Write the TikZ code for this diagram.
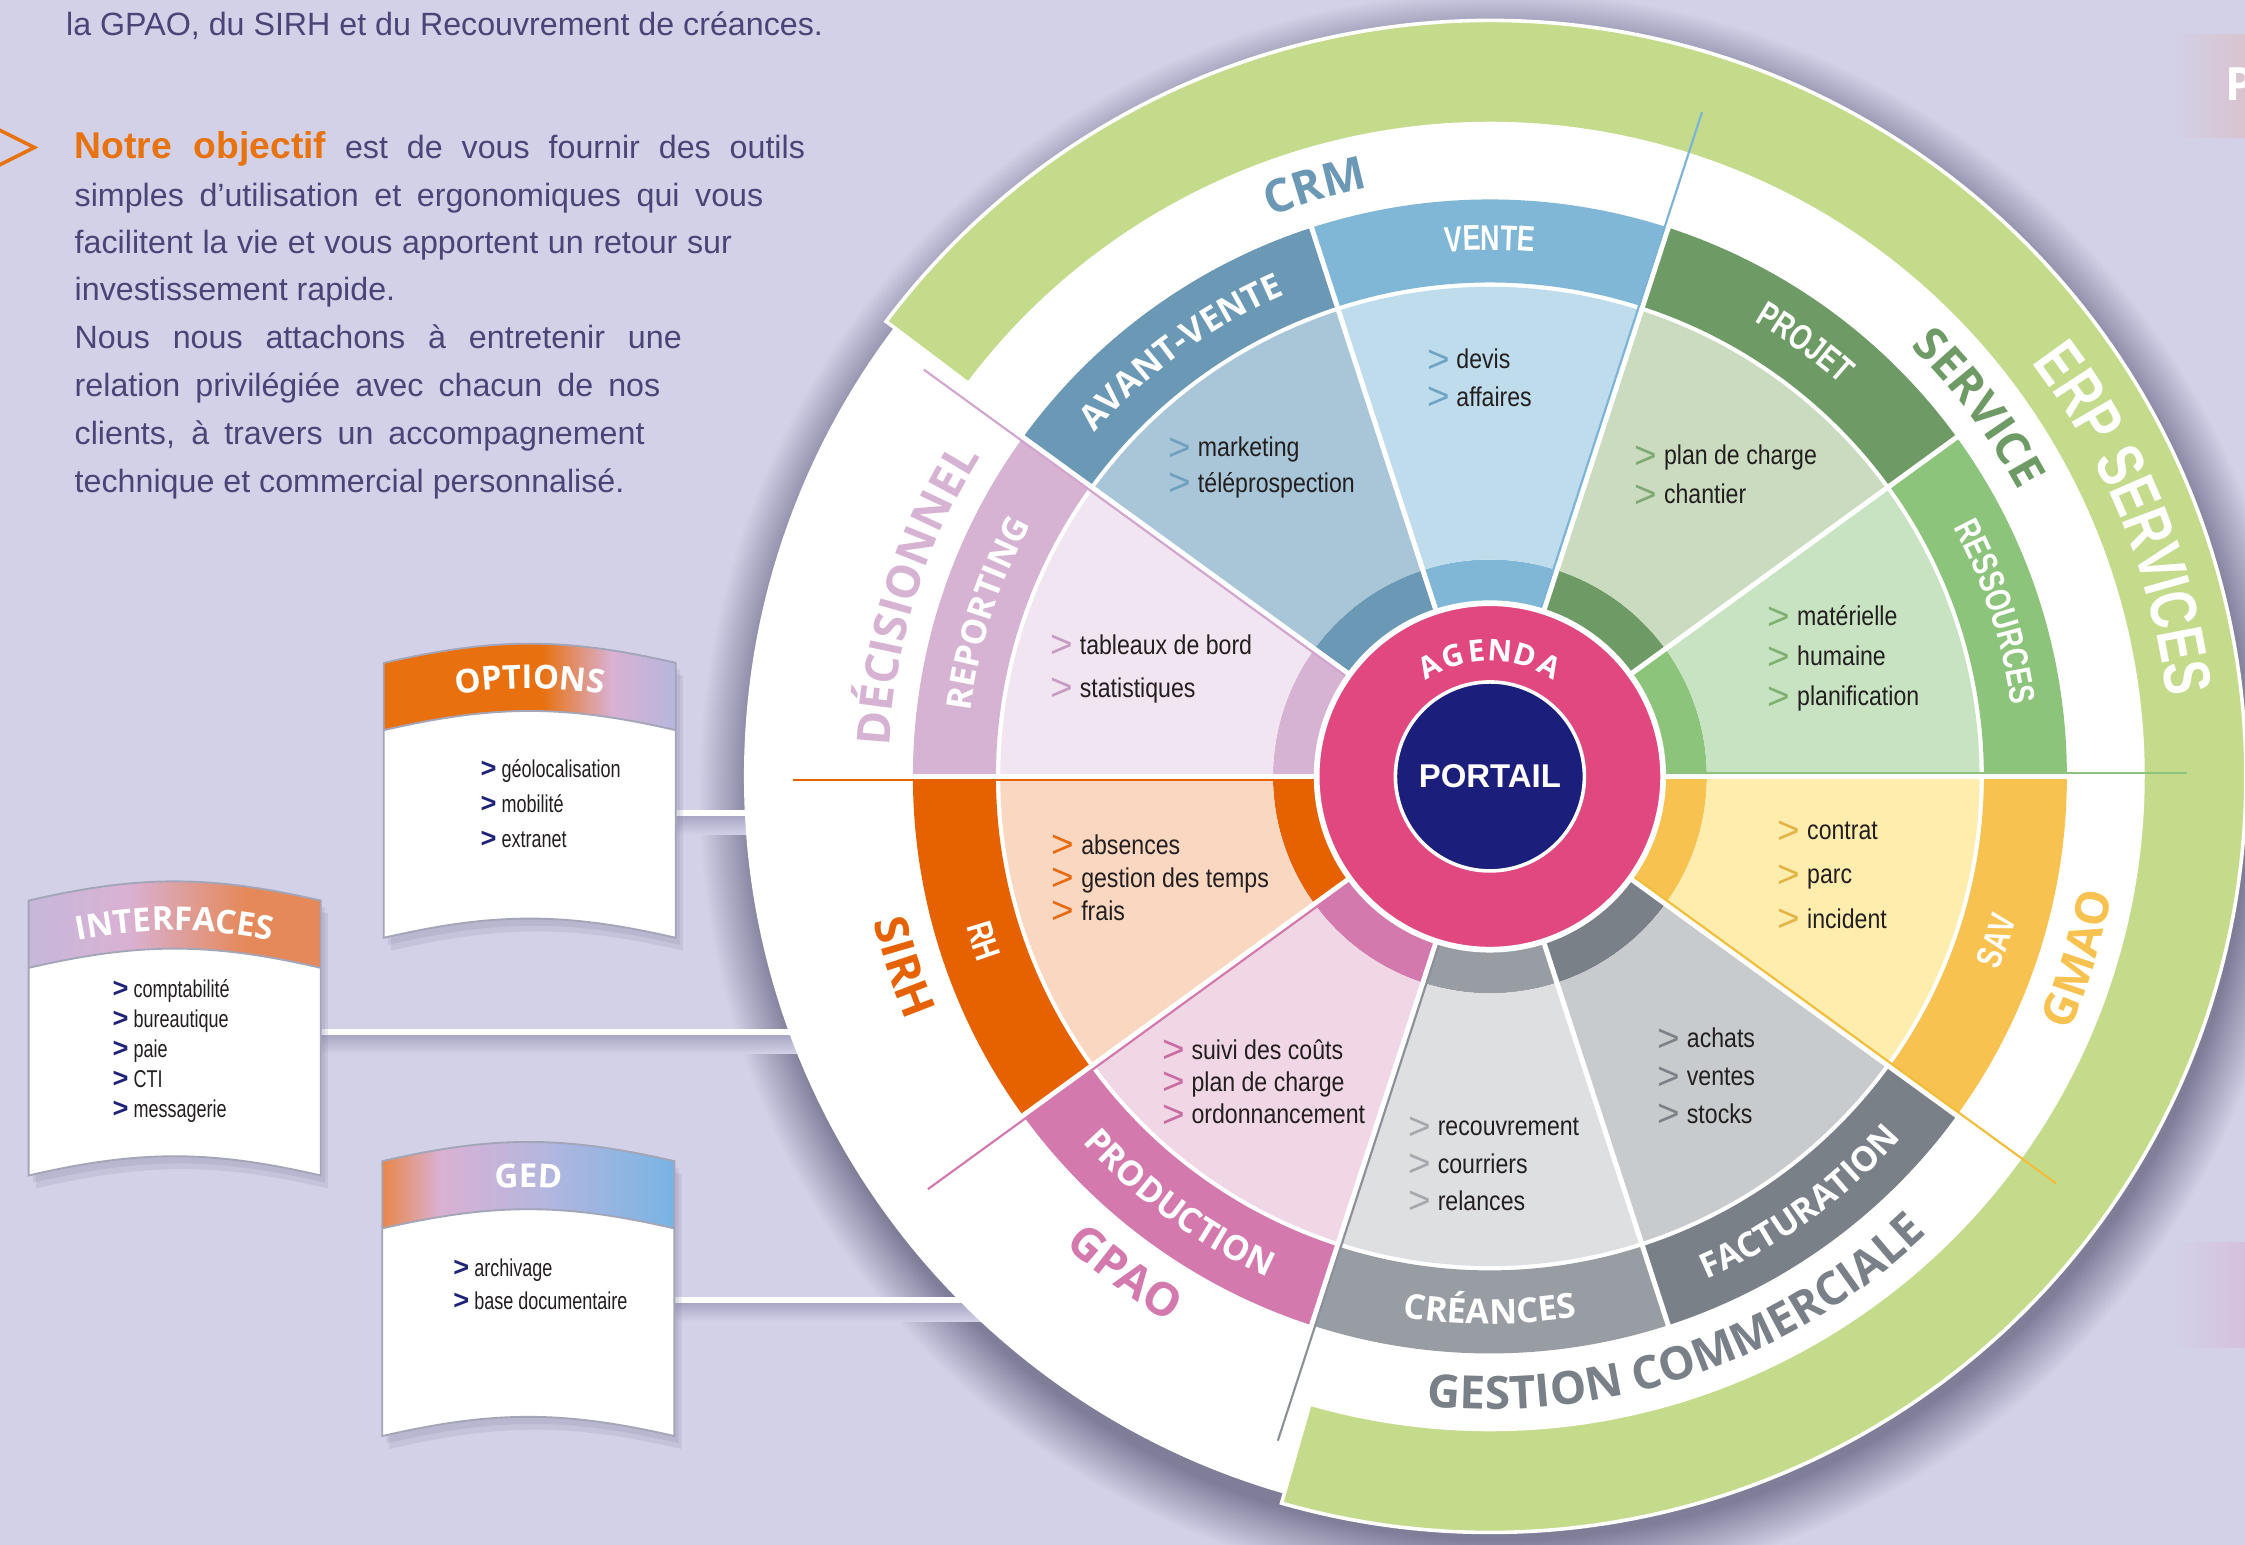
\documentclass[tikz,border=0pt]{standalone}
\usepackage{fontspec}
\setmainfont{Liberation Sans}
\newfontfamily\itemfont{Liberation Sans}[FakeStretch=0.85]
\newfontfamily\cardfont{Liberation Sans}[FakeStretch=0.74]
\newfontfamily\bandcond{Liberation Sans}[FakeStretch=0.75]
\newfontfamily\labelfont{Open Sans}
\usetikzlibrary{positioning, calc, decorations.text}

\definecolor{bgviolet}{HTML}{D2D1E8}
\definecolor{bodytext}{HTML}{4C4477}
\definecolor{objorange}{HTML}{E8720E}
\definecolor{erpgreen}{HTML}{C5DB8C}
\definecolor{agpink}{HTML}{E1487F}
\definecolor{portnavy}{HTML}{1B1F7B}
\definecolor{wheelshadowc}{HTML}{807D99}
\definecolor{barshadec}{HTML}{A9A7C3}
\definecolor{cardedge}{HTML}{A3A5B8}
\definecolor{chevnavy}{HTML}{1E2378}
\definecolor{itemtext}{HTML}{231F20}
\definecolor{cardorange}{HTML}{E8700E}
\definecolor{cardpink}{HTML}{D9B1D3}
\definecolor{cardlilac}{HTML}{B6B6DE}
\definecolor{cardlav}{HTML}{C6B8DA}
\definecolor{cardsalmon}{HTML}{E5895A}
\definecolor{gedorange}{HTML}{E8874A}
\definecolor{gedblue}{HTML}{78B4E4}
\definecolor{pboxc}{HTML}{D9C3CF}
\definecolor{qboxc}{HTML}{D5C0DD}
% sectors
\definecolor{bandvente}{HTML}{80B6D6}  \definecolor{lightvente}{HTML}{BEDCEC}  \definecolor{chevvente}{HTML}{6FA3C4}
\definecolor{bandavant}{HTML}{6B98B4}  \definecolor{lightavant}{HTML}{A8C6D8}  \definecolor{chevavant}{HTML}{6FA0C0}
\definecolor{bandreport}{HTML}{D7B3D3} \definecolor{lightreport}{HTML}{F1E5F1} \definecolor{chevreport}{HTML}{C59BC1}
\definecolor{bandrh}{HTML}{E66100}     \definecolor{lightrh}{HTML}{F9D7C0}     \definecolor{chevrh}{HTML}{E86A0F}
\definecolor{bandprod}{HTML}{D479AD}   \definecolor{lightprod}{HTML}{F1D6E5}   \definecolor{chevprod}{HTML}{C86CA3}
\definecolor{bandcrean}{HTML}{989CA3}  \definecolor{lightcrean}{HTML}{DEDFE1}  \definecolor{chevcrean}{HTML}{A4A7AC}
\definecolor{bandfact}{HTML}{7A8088}   \definecolor{lightfact}{HTML}{C8CBCE}   \definecolor{chevfact}{HTML}{7C8188}
\definecolor{bandsav}{HTML}{F8C250}    \definecolor{lightsav}{HTML}{FEEDAC}    \definecolor{chevsav}{HTML}{E3B445}
\definecolor{bandres}{HTML}{8CC47B}    \definecolor{lightres}{HTML}{C8E3C1}    \definecolor{chevres}{HTML}{7EB072}
\definecolor{bandproj}{HTML}{6E9A65}   \definecolor{lightproj}{HTML}{CADBBF}   \definecolor{chevproj}{HTML}{7EA972}
\definecolor{grpvente}{HTML}{7DB3D6}
\definecolor{grpreport}{HTML}{D2A5CE}
\definecolor{grpgest}{HTML}{8C9098}
\definecolor{grpsav}{HTML}{F3BD3C}

\pgfdeclarehorizontalshading{optshade}{100bp}{color(0bp)=(cardorange); color(25bp)=(cardorange); color(52bp)=(cardorange); color(64bp)=(cardpink); color(75bp)=(cardlilac); color(100bp)=(cardlilac)}
\pgfdeclarehorizontalshading{intshade}{100bp}{color(0bp)=(cardlav); color(25bp)=(cardlav); color(42bp)=(cardpink); color(62bp)=(cardsalmon); color(75bp)=(cardsalmon); color(100bp)=(cardsalmon)}
\pgfdeclarehorizontalshading{gedshade}{100bp}{color(0bp)=(gedorange); color(25bp)=(gedorange); color(35bp)=(cardpink); color(52bp)=(cardlilac); color(75bp)=(gedblue); color(100bp)=(gedblue)}
\pgfdeclareradialshading{wheelshade}{\pgfpoint{0bp}{0bp}}{color(0bp)=(wheelshadowc); color(23.3bp)=(wheelshadowc); color(25bp)=(bgviolet); color(50bp)=(bgviolet)}

\newcommand{\chev}[1]{\makebox[20.5pt][l]{\raisebox{-2.5pt}{\textcolor{#1}{\normalfont\fontsize{27}{27}\selectfont >}}}}
\newcommand{\cchev}{{\normalfont\bfseries\fontsize{19}{19}\selectfont\color{chevnavy}>}\ }
\newcommand{\bandlbl}{\labelfont\bfseries\fontsize{24}{24}\selectfont\color{white}}
\newcommand{\condlbl}{\bandcond\bfseries\fontsize{25}{25}\selectfont\color{white}}
\newcommand{\grouplbl}[1]{\labelfont\bfseries\fontsize{32}{32}\selectfont\color{#1}}
\newcommand{\cardtitle}{\labelfont\bfseries\fontsize{23}{23}\selectfont\color{white}}

\begin{document}
\begin{tikzpicture}[x=1pt, y=1pt,
    bodyline/.style={anchor=base west, inner sep=0pt, text=bodytext, font=\fontsize{22.5}{33}\selectfont},
    itemlist/.style={anchor=west, inner sep=0pt, align=left, text=itemtext, font=\itemfont\fontsize{19}{#1}\selectfont},
    cardlist/.style={anchor=west, inner sep=0pt, align=left, text=itemtext, font=\cardfont\fontsize{17}{#1}\selectfont},
    cardline/.style={draw=cardedge, line width=1.3pt},
    cardshadow/.style={fill=wheelshadowc, opacity=0.16},
    bar/.style={draw=white, line width=4pt},
    barshadow/.style={top color=barshadec, bottom color=bgviolet},
    sepline/.style={draw=white, line width=3.5pt},
    grpline/.style={line width=1.5pt},
    agletter/.style={inner sep=0pt, text=white, font=\labelfont\bfseries\fontsize{21}{21}\selectfont},
    arclabel/.style={decorate, decoration={text along path, text align=center, text={#1}}}]

    \useasboundingbox (0,0) rectangle (1568,1079);
    \clip (0,0) rectangle (1568,1079);
    \fill[bgviolet] (0,0) rectangle (1568,1079);

    % Left text
    \node[bodyline] (intro) at (46,1054) {la GPAO, du SIRH et du Recouvrement de créances.};
    \draw[objorange, line width=2.5pt] (-2,989) -- (24,976) -- (-2,963);
    \node[bodyline] (para1) at (52,968) {\makebox[510pt][s]{{\color{objorange}\bfseries\fontsize{26}{33}\selectfont Notre objectif} est de vous fournir des outils}};
    \node[bodyline] (para2) at (52,935) {\makebox[481pt][s]{simples d’utilisation et ergonomiques qui vous}};
    \node[bodyline] (para3) at (52,902) {\makebox[459pt][s]{facilitent la vie et vous apportent un retour sur}};
    \node[bodyline] (para4) at (52,869) {investissement rapide.};
    \node[bodyline] (para5) at (52,835.5) {\makebox[424pt][s]{Nous nous attachons à entretenir une}};
    \node[bodyline] (para6) at (52,802) {\makebox[409pt][s]{relation privilégiée avec chacun de nos}};
    \node[bodyline] (para7) at (52,768.5) {\makebox[398pt][s]{clients, à travers un accompagnement}};
    \node[bodyline] (para8) at (52,735) {technique et commercial personnalisé.};

    % Right edge boxes
    \shade[left color=bgviolet, right color=pboxc] (1516,983) rectangle (1568,1055);
    \node[inner sep=0pt, anchor=west, text=white, font=\labelfont\bfseries\fontsize{32}{32}\selectfont] (pnext) at (1554,1020) {P};
    \shade[left color=bgviolet, right color=qboxc] (1518,138) rectangle (1568,211);

    \coordinate (hub) at (1040.6,536.7);

    % Wheel shadow
    \shade[shading=wheelshade] ($(hub)+(7,-11)$) circle (560);

    % Connectors
    \coordinate (optport) at (472,511);
    \coordinate (intport) at (224,358);
    \coordinate (gedport) at (471,171);
    \foreach \p in {optport,intport,gedport} {
        \shade[barshadow] ($(\p)+(0,-2)$) rectangle ($(\p -| hub)+(0,-15)$);
        \draw[bar] (\p) -- (\p -| hub);
    }

    % Cards
    \foreach \L/\R/\T/\H/\B/\shd in {268/472/616/569/424/optshade, 20/224/450/403/258/intshade, 267/471/268/221/76/gedshade} {
        \begin{scope}[shift={(3,-5)}]
            \fill[cardshadow] (\L,\T) to[bend left=13] (\R,\T) -- (\R,\B) to[bend right=13] (\L,\B) -- cycle;
        \end{scope}
        \begin{scope}[shift={(5,-9)}]
            \fill[cardshadow] (\L,\T) to[bend left=13] (\R,\T) -- (\R,\B) to[bend right=13] (\L,\B) -- cycle;
        \end{scope}
        \fill[white] (\L,\T) to[bend left=13] (\R,\T) -- (\R,\B) to[bend right=13] (\L,\B) -- cycle;
        \shade[shading=\shd] (\L,\T) to[bend left=13] (\R,\T) -- (\R,\H) to[bend right=13] (\L,\H) -- cycle;
        \draw[cardline] (\L,\H) to[bend left=13] (\R,\H);
        \draw[cardline] (\L,\T) to[bend left=13] (\R,\T) -- (\R,\B) to[bend right=13] (\L,\B) -- cycle;
    }
    \path[arclabel={|\cardtitle|OPTIONS}] (278,586) to[bend left=13] (462,586);
    \path[arclabel={|\cardtitle|INTERFACES}] (30,417) to[bend left=13] (214,417);
    \path[arclabel={|\cardtitle|GED}] (277,237.5) to[bend left=13] (461,237.5);

    \node[cardlist=24.5] (optitems) at (335.5,517.5) {\cchev géolocalisation\\\cchev mobilité\\\cchev extranet};
    \node[cardlist=21] (intitems) at (78.5,345) {\cchev comptabilité\\\cchev bureautique\\\cchev paie\\\cchev CTI\\\cchev messagerie};
    \node[cardlist=22.6] (geditems) at (316.5,182) {\cchev archivage\\\cchev base documentaire};

    % Wheel
    \begin{scope}[shift={(hub)}]
        \node[circle, fill=white, minimum size=1042pt, inner sep=0pt] (disk) at (0,0) {};
        \fill[erpgreen, draw=white, line width=2.5pt] (143:528) arc[start angle=143, end angle=-106, radius=528] -- (-106:456) arc[start angle=-106, end angle=143, radius=456] -- cycle;

        % Sector rings
        \foreach \a/\sct in {0/res,36/proj,72/vente,108/avant,144/report,180/rh,216/prod,252/crean,288/fact,324/sav} {
            \pgfmathsetmacro{\aend}{\a+36}
            \fill[band\sct] (\a:122) arc[start angle=\a, end angle=\aend, radius=122] -- (\aend:151.5) arc[start angle=\aend, end angle=\a, radius=151.5] -- cycle;
            \fill[light\sct] (\a:151.5) arc[start angle=\a, end angle=\aend, radius=151.5] -- (\aend:342) arc[start angle=\aend, end angle=\a, radius=342] -- cycle;
            \fill[band\sct] (\a:345) arc[start angle=\a, end angle=\aend, radius=345] -- (\aend:403) arc[start angle=\aend, end angle=\a, radius=403] -- cycle;
        }
        \foreach \a in {0,36,...,324}
            \draw[sepline] (\a:119) -- (\a:404);
        \foreach \a/\col in {0/bandres, 72/grpvente, 144/grpreport, 180/bandrh, 216/bandprod, 252/grpgest, 324/grpsav}
            \draw[grpline, draw=\col, rotate=\a] (122,2.5) -- (487,2.5);

        % Centre
        \node[circle, fill=agpink, draw=white, line width=4pt, minimum size=242pt, inner sep=0pt] (agenda) at (0,0) {};
        \node[circle, fill=portnavy, draw=white, line width=2.5pt, minimum size=132pt, inner sep=0pt, text=white, font=\bfseries\fontsize{23}{23}\selectfont] (portail) at (0,0) {PORTAIL};
        \foreach \ch/\ang [count=\i] in {A/118.5, G/107.2, E/96.2, N/85.5, D/73.7, A/61.5}
            \node[agletter, rotate=\ang-90] (agl\i) at (\ang:88) {\ch};

        % Band labels
        \path[arclabel={|\condlbl|RESSOURCES}] (35:367.5) arc[start angle=35, end angle=1, radius=367.5];
        \path[arclabel={|\condlbl|PROJET}] (71:367.5) arc[start angle=71, end angle=37, radius=367.5];
        \path[arclabel={|\condlbl|VENTE}] (107:367.5) arc[start angle=107, end angle=73, radius=367.5];
        \path[arclabel={|\bandlbl|AVANT-VENTE}] (143:365.5) arc[start angle=143, end angle=109, radius=365.5];
        \path[arclabel={|\bandlbl|REPORTING}] (179:365.5) arc[start angle=179, end angle=145, radius=365.5];
        \path[arclabel={|\condlbl|RH}] (181:380.5) arc[start angle=181, end angle=215, radius=380.5];
        \path[arclabel={|\bandlbl|PRODUCTION}] (217:382.5) arc[start angle=217, end angle=251, radius=382.5];
        \path[arclabel={|\bandlbl|CRÉANCES}] (253:382.5) arc[start angle=253, end angle=287, radius=382.5];
        \path[arclabel={|\bandlbl|FACTURATION}] (289:382.5) arc[start angle=289, end angle=323, radius=382.5];
        \path[arclabel={|\condlbl|SAV}] (325:380.5) arc[start angle=325, end angle=359, radius=380.5];

        % Group labels
        \path[arclabel={|\grouplbl{bandproj}|SERVICE}] (57:420) arc[start angle=57, end angle=17, radius=420];
        \path[arclabel={|\grouplbl{bandavant}|CRM}] (126.5:420) arc[start angle=126.5, end angle=86.5, radius=420];
        \path[arclabel={|\grouplbl{bandreport}|DÉCISIONNEL}] (192:420) arc[start angle=192, end angle=133, radius=420];
        \path[arclabel={|\grouplbl{bandrh}|SIRH}] (183:442) arc[start angle=183, end angle=213, radius=442];
        \path[arclabel={|\grouplbl{bandprod}|GPAO}] (218:442) arc[start angle=218, end angle=249.4, radius=442];
        \path[arclabel={|\grouplbl{bandfact}|GESTION COMMERCIALE}] (254:442) arc[start angle=254, end angle=324, radius=442];
        \path[arclabel={|\grouplbl{bandsav}|GMAO}] (325:442) arc[start angle=325, end angle=360.6, radius=442];
        \path[arclabel={|\bandcond\bfseries\fontsize{46}{46}\selectfont\color{white}|ERP SERVICES}] (62:476) arc[start angle=62, end angle=-18, radius=476];
    \end{scope}

    % Sector items
    \node[itemlist=26] (venteitems) at (996.5,814) {\chev{chevvente}devis\\\chev{chevvente}affaires};
    \node[itemlist=25] (avantitems) at (816,752.5) {\chev{chevavant}marketing\\\chev{chevavant}téléprospection};
    \node[itemlist=30] (reportitems) at (733.5,612) {\chev{chevreport}tableaux de bord\\\chev{chevreport}statistiques};
    \node[itemlist=23] (rhitems) at (734.5,465) {\chev{chevrh}absences\\\chev{chevrh}gestion des temps\\\chev{chevrh}frais};
    \node[itemlist=22.5] (proditems) at (811.5,322.5) {\chev{chevprod}suivi des coûts\\\chev{chevprod}plan de charge\\\chev{chevprod}ordonnancement};
    \node[itemlist=26] (creanitems) at (983.5,265) {\chev{chevcrean}recouvrement\\\chev{chevcrean}courriers\\\chev{chevcrean}relances};
    \node[itemlist=26.5] (factitems) at (1157.5,326.5) {\chev{chevfact}achats\\\chev{chevfact}ventes\\\chev{chevfact}stocks};
    \node[itemlist=31] (savitems) at (1241.5,467) {\chev{chevsav}contrat\\\chev{chevsav}parc\\\chev{chevsav}incident};
    \node[itemlist=28] (resitems) at (1234.5,619) {\chev{chevres}matérielle\\\chev{chevres}humaine\\\chev{chevres}planification};
    \node[itemlist=27] (projitems) at (1141.5,746.5) {\chev{chevproj}plan de charge\\\chev{chevproj}chantier};

\end{tikzpicture}
\end{document}
